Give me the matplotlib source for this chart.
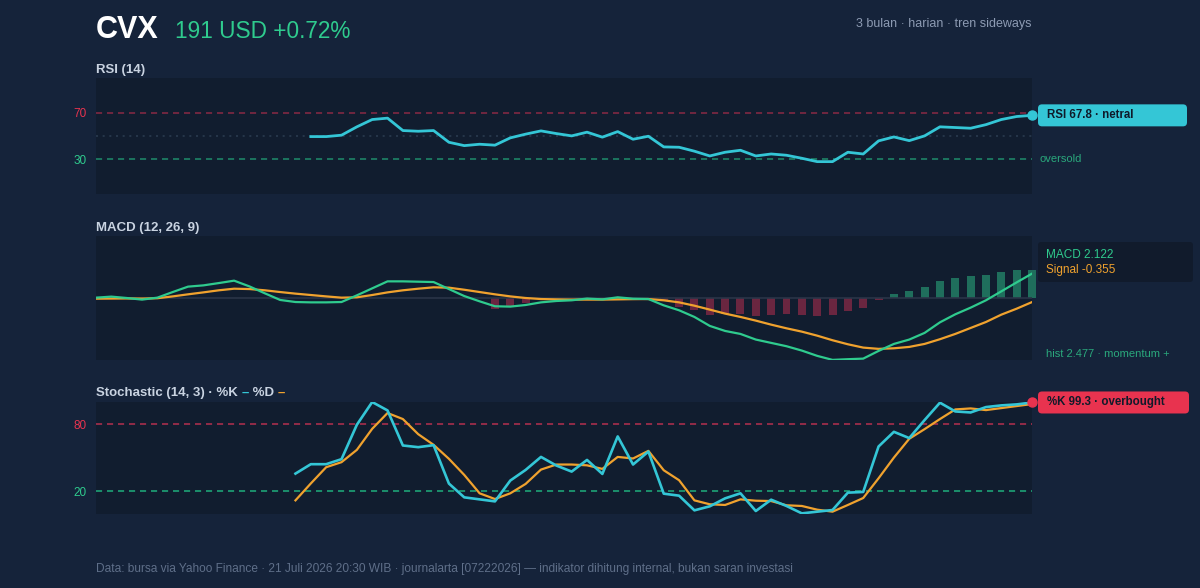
import numpy as np
import matplotlib
matplotlib.use("Agg")
import matplotlib.pyplot as plt
from matplotlib.patches import FancyBboxPatch
from matplotlib.transforms import IdentityTransform

plt.rcParams['font.family'] = ['Liberation Sans', 'DejaVu Sans']

nan = np.nan

# data harian (62 hari bursa)
hari = np.arange(62)

rsi = [nan] * 14 + [
    49.5, 49.5, 50.7, 57.9, 64.2, 65.4, 54.7, 54.1, 54.7, 44.6,
    41.7, 42.9, 42.1, 48.4, 51.6, 54.4, 52.1, 50.1, 53.3, 49.0,
    53.8, 47.2, 49.8, 40.6, 40.3, 36.9, 32.8, 36.0, 37.7, 32.8,
    34.5, 33.4, 30.8, 27.9, 27.9, 36.0, 34.5, 45.8, 49.2, 46.0,
    50.1, 57.9, 57.3, 56.7, 59.8, 64.2, 66.8, 67.8]

macd = [0.03, 0.12, 0.00, -0.14, 0.03, 0.52, 0.99, 1.10, 1.30, 1.51,
        1.01, 0.41, -0.17, -0.35, -0.38, -0.38, -0.35, 0.23, 0.84, 1.45,
        1.45, 1.42, 1.39, 0.78, 0.17, -0.29, -0.72, -0.75, -0.61, -0.38,
        -0.26, -0.20, -0.05, -0.12, 0.06, -0.06, -0.09, -0.64, -1.07, -1.65,
        -2.43, -2.87, -3.13, -3.62, -3.91, -4.20, -4.58, -5.04, -5.39, -5.33,
        -5.28, -4.61, -4.00, -3.62, -3.04, -2.12, -1.42, -0.84, -0.20, 0.58,
        1.36, 2.122]

signal = [-0.06, -0.05, -0.04, -0.05, -0.02, 0.14, 0.32, 0.49, 0.67, 0.81,
          0.78, 0.67, 0.52, 0.38, 0.26, 0.14, 0.03, 0.06, 0.26, 0.49,
          0.67, 0.81, 0.93, 0.90, 0.72, 0.52, 0.32, 0.14, 0.00, -0.09,
          -0.12, -0.14, -0.14, -0.14, -0.12, -0.10, -0.09, -0.20, -0.38, -0.67,
          -1.01, -1.36, -1.65, -1.97, -2.32, -2.64, -2.93, -3.28, -3.68, -4.03,
          -4.32, -4.43, -4.38, -4.26, -4.00, -3.59, -3.13, -2.61, -2.09, -1.45,
          -0.93, -0.355]

hist = [nan] * 26 + [
    -0.99, -0.75, -0.46, -0.03, -0.02, -0.02, 0.01, 0.01, 0.02, 0.01,
    -0.01, -0.20, -0.78, -1.04, -1.45, -1.36, -1.42, -1.54, -1.48, -1.42,
    -1.45, -1.54, -1.48, -1.10, -0.84, -0.20, 0.35, 0.61, 0.93, 1.48,
    1.77, 1.88, 2.00, 2.23, 2.41, 2.477]

stoch_k = [nan] * 13 + [
    35.8, 44.2, 44.2, 48.7, 79.4, 99.7, 92.2, 60.9, 59.4, 61.2,
    26.9, 14.6, 12.8, 11.0, 29.6, 39.1, 50.7, 43.0, 37.6, 48.0,
    35.5, 69.0, 43.9, 55.5, 17.9, 16.1, 3.0, 6.6, 13.7, 18.2,
    2.4, 12.5, 6.9, 0.3, 1.8, 3.3, 18.8, 19.4, 60.0, 73.1,
    67.5, 83.6, 99.1, 91.3, 90.4, 95.2, 96.7, 97.6, 99.3]

stoch_d = [nan] * 13 + [
    11.9, 27.0, 41.5, 46.0, 57.0, 75.8, 89.9, 84.5, 71.0, 61.5,
    49.0, 34.6, 18.2, 13.1, 18.2, 26.6, 39.4, 43.9, 43.9, 43.2,
    40.0, 50.7, 49.3, 56.1, 38.8, 29.9, 11.9, 8.4, 7.8, 12.8,
    11.6, 11.3, 7.5, 6.9, 3.6, 1.8, 7.8, 14.0, 31.6, 50.1,
    66.9, 75.5, 84.5, 93.1, 94.0, 92.5, 94.3, 96.1, 97.9]

rsi = np.array(rsi, dtype=float)
macd = np.array(macd, dtype=float)
signal = np.array(signal, dtype=float)
hist = np.array(hist, dtype=float)
stoch_k = np.array(stoch_k, dtype=float)
stoch_d = np.array(stoch_d, dtype=float)

# warna
FONDO = '#15233a'
PANEL = '#111d2f'
TEXTO = '#c9d3e1'
GRIS = '#8d9bb3'
PIE = '#5f6f89'
VERDE = '#2fcb8e'
NARANJA = '#f0a22e'
CIAN = '#34c6d6'
ROJO = '#e8334f'
OSCURO = '#0f1a2a'

W, H = 1200, 588
fig = plt.figure(figsize=(12, 5.88), dpi=100, facecolor=FONDO)


def fy(y):
    # píxel de imagen (desde arriba) -> fracción de figura
    return 1 - y / H


def panel(top, bottom):
    ax = fig.add_axes([96 / W, fy(bottom), 936 / W, (bottom - top) / H])
    ax.set_facecolor(PANEL)
    for s in ax.spines.values():
        s.set_visible(False)
    ax.set_xlim(0, 61)
    ax.set_xticks([])
    ax.tick_params(axis='y', length=0, pad=7, labelsize=8.5)
    return ax


def kotak(x0, y0, x1, y1, color, r=4):
    # caja redondeada en píxeles de imagen
    p = FancyBboxPatch((x0, H - y1), x1 - x0, y1 - y0,
                       boxstyle='round,pad=0,rounding_size=%d' % r,
                       facecolor=color, edgecolor='none',
                       transform=IdentityTransform())
    fig.add_artist(p)


def y_img(ax, val):
    return H - ax.transData.transform((0, val))[1]


DASH = (0, (4, 3.2))

# encabezado
fig.text(96 / W, fy(38), 'CVX', color='white', fontsize=22,
         fontweight='bold', va='baseline')
fig.text(175 / W, fy(38), '191 USD +0.72%', color=VERDE, fontsize=16.3,
         va='baseline')
fig.text(1032 / W, fy(26.5), '3 bulan · harian · tren sideways', color=GRIS,
         fontsize=9, ha='right', va='baseline')

# ---- RSI ----
ax1 = panel(78, 194)
ax1.set_ylim(0, 100)
ax1.axhline(70, color='#8a2a45', lw=1.1, ls=DASH)
ax1.axhline(30, color='#1f8c6c', lw=1.1, ls=DASH)
ax1.axhline(50, color='#2a3a4f', lw=1.2, ls=(0, (1.2, 2.8)))
ax1.plot(hari, rsi, color=CIAN, lw=2.0)
ax1.plot(hari[-1], rsi[-1], 'o', color=CIAN, ms=6.5, clip_on=False)
ax1.set_yticks([30, 70])
ax1.set_yticklabels(['30', '70'])
for lab, c in zip(ax1.get_yticklabels(), [VERDE, ROJO]):
    lab.set_color(c)
fig.text(96 / W, fy(72.5), 'RSI (14)', color=TEXTO, fontsize=9.5,
         fontweight='bold', va='baseline')

yb = y_img(ax1, rsi[-1])
kotak(1038, yb - 11, 1187, yb + 11, CIAN)
fig.text(1047 / W, fy(yb), 'RSI %.1f · netral' % rsi[-1], color=OSCURO,
         fontsize=8.3, fontweight='bold', va='center')
fig.text(1040 / W, fy(y_img(ax1, 30)), 'oversold', color='#2aa87c',
         fontsize=8, va='center')

# ---- MACD ----
ax2 = panel(236, 360)
ax2.set_ylim(-5.4, 5.4)
ax2.set_yticks([])
ax2.axhline(0, color='#2a3548', lw=1.2)
warna_hist = np.where(hist >= 0, '#1f6e5c', '#6a2640')
ax2.bar(hari, hist, width=0.52, color=warna_hist, clip_on=False)
ax2.plot(hari, signal, color=NARANJA, lw=1.6)
ax2.plot(hari, macd, color=VERDE, lw=1.6)
fig.text(96 / W, fy(230.5), 'MACD (12, 26, 9)', color=TEXTO, fontsize=9.5,
         fontweight='bold', va='baseline')

kotak(1038, 242, 1193, 282, '#111b2c', r=3)
fig.text(1046 / W, fy(258), 'MACD %.3f' % macd[-1], color=VERDE,
         fontsize=8.5, va='baseline')
fig.text(1046 / W, fy(273), 'Signal %.3f' % signal[-1], color=NARANJA,
         fontsize=8.5, va='baseline')
fig.text(1046 / W, fy(354), 'hist %.3f · momentum +' % hist[-1],
         color='#2aa87c', fontsize=8, va='center')

# ---- Stochastic ----
ax3 = panel(401.7, 513.7)
ax3.set_ylim(0, 100)
ax3.axhline(80, color='#b5304f', lw=1.1, ls=DASH)
ax3.axhline(20, color='#1fae7c', lw=1.1, ls=DASH)
ax3.plot(hari, stoch_d, color=NARANJA, lw=1.6)
ax3.plot(hari, stoch_k, color=CIAN, lw=1.9)
ax3.plot(hari[-1], stoch_k[-1], 'o', color=ROJO, ms=6.5, clip_on=False)
ax3.set_yticks([20, 80])
ax3.set_yticklabels(['20', '80'])
for lab, c in zip(ax3.get_yticklabels(), [VERDE, ROJO]):
    lab.set_color(c)

# judul stochastic dengan garis warna
renderer = fig.canvas.get_renderer()
x = 96
for txt, c in [('Stochastic (14, 3) · %K ', TEXTO), ('–', CIAN),
               (' %D ', TEXTO), ('–', NARANJA)]:
    t = fig.text(x / W, fy(396), txt, color=c, fontsize=9.5,
                 fontweight='bold', va='baseline')
    x += t.get_window_extent(renderer).width

yb = y_img(ax3, stoch_k[-1])
kotak(1038, yb - 11, 1189, yb + 11, ROJO)
fig.text(1047 / W, fy(yb), '%%K %.1f · overbought' % stoch_k[-1],
         color=OSCURO, fontsize=8.3, fontweight='bold', va='center')

# pie
fig.text(96 / W, fy(569), 'Data: bursa via Yahoo Finance · 21 Juli 2026 20:30 WIB · '
         'journalarta [07222026] — indikator dihitung internal, bukan saran investasi',
         color=PIE, fontsize=8.6, va='center')

fig.savefig('out.png', dpi=100, facecolor=FONDO)
